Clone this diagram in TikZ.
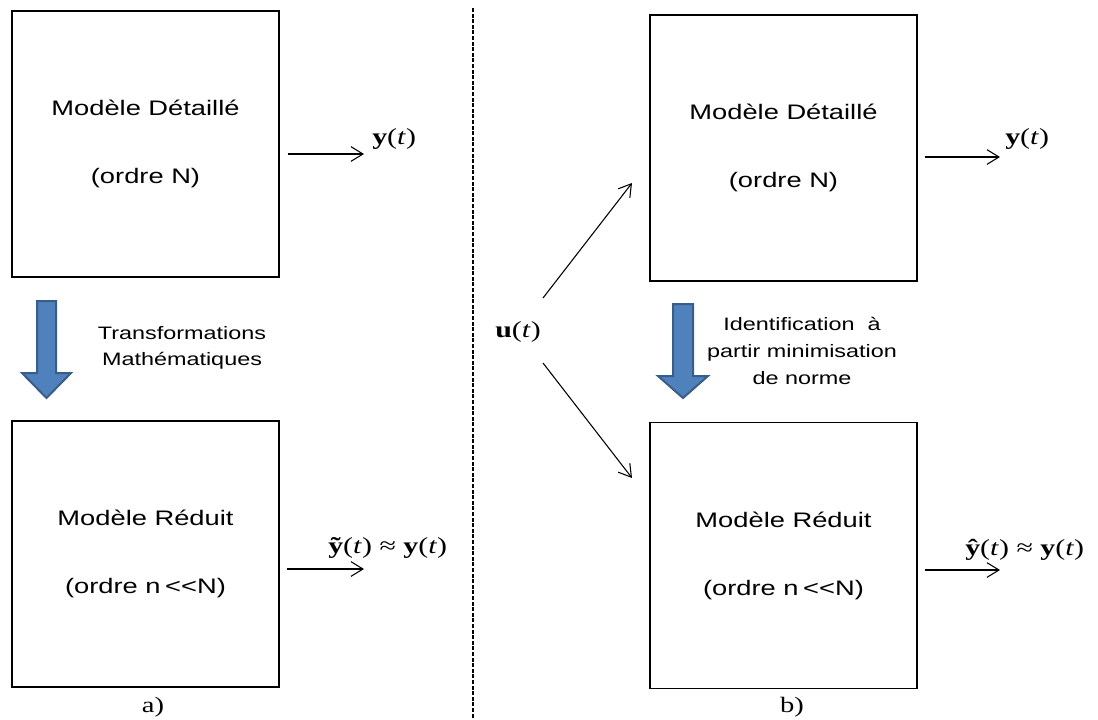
\documentclass[tikz,border=0pt]{standalone}
\usepackage{fontspec}
\setmainfont{Liberation Serif}
\setsansfont{Liberation Sans}
\usetikzlibrary{arrows.meta}
\newcommand{\etire}[1]{\scalebox{1.3}[1]{#1}}
\definecolor{bleufleche}{HTML}{4F81BD}
\definecolor{bordfleche}{HTML}{385D8A}
\tikzset{
  modele/.style={draw, line width=1pt, minimum width=200.25pt, minimum height=199.5pt,
    inner sep=0pt, align=center, font=\sffamily\fontsize{15.75}{51}\selectfont},
  sortie/.style={line width=0.8pt, -{Straight Barb[length=9pt,width=11pt]}},
  signal/.style={inner sep=0pt, font=\fontsize{17.25}{20}\selectfont},
  legende/.style={align=center, inner sep=0pt, font=\sffamily\fontsize{13.5}{20}\selectfont},
  grossefleche/.style={fill=bleufleche, draw=bordfleche, line width=1.5pt},
}
\begin{document}
\begin{tikzpicture}[x=0.75pt,y=-0.75pt]
            \useasboundingbox (0,0) rectangle (1098,719);
            % separation a) / b)
            \draw[line width=1.5pt, dash pattern=on 3pt off 1.2pt] (473,8) -- (473,719);
            % a) reduction par transformations
            \node[modele] (A1) at (145.5,144) {\etire{Modèle Détaillé}\\\etire{(ordre N)}};
            \node[modele] (A2) at (145.5,554) {\etire{Modèle Réduit}\\\etire{(ordre n\,{<}{<}N)}};
            \coordinate (oA1) at (364,154);
            \coordinate (oA2) at (364,569);
            \draw[sortie] ([shift={(8,10)}]A1.east) -- (oA1);
            \draw[sortie] ([shift={(7,15)}]A2.east) -- (oA2);
            \node[signal, anchor=west] (yA1) at (372,139) {\etire{\textbf{y}(\textit{t})}};
            \node[signal, anchor=west] (yA2) at (328,548) {\etire{\textbf{\~{y}}(\textit{t}) ≈ \textbf{y}(\textit{t})}};
            \draw[grossefleche] (37,301) -- (56,301) -- (56,373) -- (71,373) -- (46.5,398) -- (22,373) -- (37,373) -- cycle;
            \node[legende] (tA) at (182,348) {\etire{Transformations}\\\etire{Mathématiques}};
            \node[font=\fontsize{16.5}{20}\selectfont] (la) at (153,707) {\etire{a)}};
            % b) identification
            \node[modele] (B1) at (783.5,148) {\etire{Modèle Détaillé}\\\etire{(ordre N)}};
            \node[modele] (B2) at (783.5,555.5) {\etire{Modèle Réduit}\\\etire{(ordre n\,{<}{<}N)}};
            \node[signal] (u) at (518,332) {\etire{\textbf{u}(\textit{t})}};
            \coordinate (iB1) at (632,183);
            \coordinate (iB2) at (632,478);
            \draw[sortie] ([shift={(2,-34)}]u.east) -- (iB1);
            \draw[sortie] ([shift={(2,31)}]u.east) -- (iB2);
            \coordinate (oB1) at (1000,157);
            \coordinate (oB2) at (1000,570);
            \draw[sortie] ([shift={(7,9)}]B1.east) -- (oB1);
            \draw[sortie] ([shift={(7,14.5)}]B2.east) -- (oB2);
            \node[signal, anchor=west] (yB1) at (1005,139) {\etire{\textbf{y}(\textit{t})}};
            \node[signal, anchor=west] (yB2) at (965,550) {\etire{\textbf{\^{y}}(\textit{t}) ≈ \textbf{y}(\textit{t})}};
            \draw[grossefleche] (673,304) -- (693,304) -- (693,376) -- (708,376) -- (683,398) -- (658,376) -- (673,376) -- cycle;
            \node[legende] (tB) at (802,351) {\etire{Identification \ à}\\\etire{partir minimisation}\\\etire{de norme}};
            \node[font=\fontsize{16.5}{20}\selectfont] (lb) at (792,707) {\etire{b)}};
        \end{tikzpicture}
\end{document}
